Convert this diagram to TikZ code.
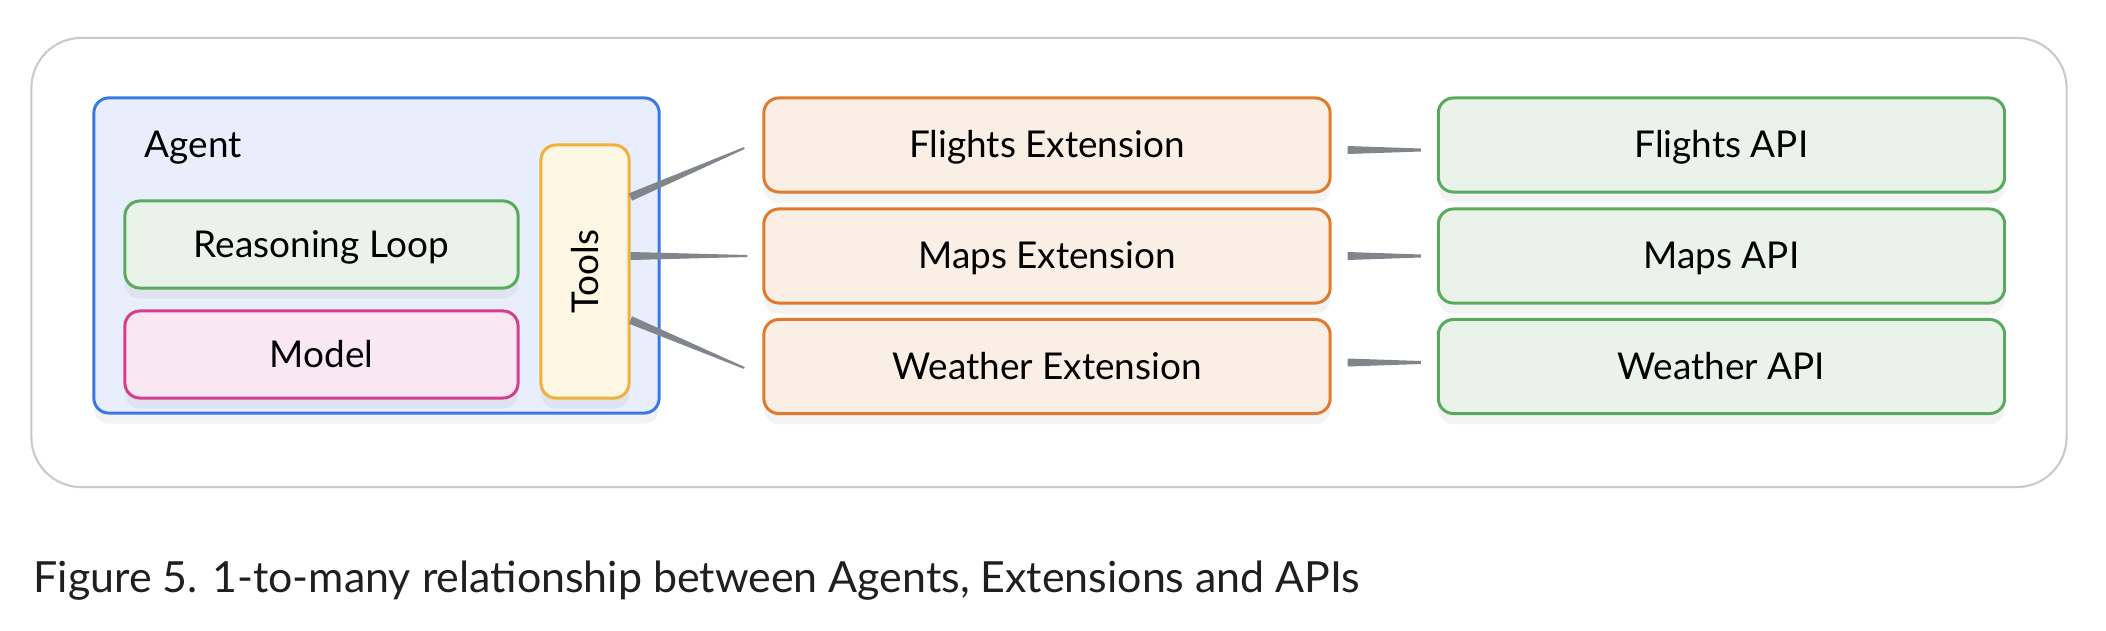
\documentclass[tikz,border=0pt]{standalone}
\usepackage{fontspec}
\setmainfont{Lato}
\usepackage{graphicx}
\usepackage{xcolor}
\definecolor{frameline}{HTML}{C8CACC}
\definecolor{agentline}{HTML}{3B78E7}
\definecolor{agentfill}{HTML}{E8EEFB}
\definecolor{loopline}{HTML}{5AAA5E}
\definecolor{loopfill}{HTML}{E9F3EA}
\definecolor{modelline}{HTML}{D63D8E}
\definecolor{modelfill}{HTML}{F9E7F1}
\definecolor{toolline}{HTML}{F0B03A}
\definecolor{toolfill}{HTML}{FDF6E3}
\definecolor{extline}{HTML}{E07A2E}
\definecolor{extfill}{HTML}{FAEFE4}
\definecolor{wiregray}{HTML}{80868B}
\definecolor{inkblack}{HTML}{1F1F1F}
\usepackage{tikz}
\usetikzlibrary{shadows,calc}

% tapered connector: from, to, half width at start, half width at end
\newcommand{\taperwire}[4]{%
  \fill[wiregray] ($(#1)!#3!90:(#2)$) -- ($(#2)!#4!-90:(#1)$) -- ($(#2)!#4!90:(#1)$) -- ($(#1)!#3!-90:(#2)$) -- cycle;}

\begin{document}
\begin{tikzpicture}[x=0.01cm,y=-0.01cm,
    box/.style={draw,line width=0.85pt,rounded corners=0.15cm,align=center,
      font=\fontsize{10.5pt}{12pt}\selectfont,text=black,
      drop shadow={opacity=0.09,shadow xshift=0pt,shadow yshift=-3pt}},
    lblbox/.style={box,text height=1.45ex,text depth=0pt},
    wide/.style={lblbox,minimum width=5.66cm,minimum height=0.94cm},
    extbox/.style={wide,draw=extline,fill=extfill},
    apibox/.style={wide,draw=loopline,fill=loopfill}]
  \useasboundingbox (0,0) rectangle (2106,630);
  \fill[white] (0,0) rectangle (2106,630);

  \node[draw=frameline,line width=0.6pt,rounded corners=0.5cm,
    minimum width=20.34cm,minimum height=4.49cm] (frame) at (1049,262.5) {};

  \node[box,draw=agentline,fill=agentfill,minimum width=5.65cm,minimum height=3.15cm] (agent) at (376.5,255.5) {};
  \node[anchor=west,inner sep=0pt,font=\fontsize{10.5pt}{12pt}\selectfont] (agentlbl) at (144,148) {Agent};
  \node[lblbox,draw=loopline,fill=loopfill,minimum width=3.93cm,minimum height=0.87cm] (loop) at (321.5,244.5) {Reasoning Loop};
  \node[lblbox,draw=modelline,fill=modelfill,minimum width=3.93cm,minimum height=0.87cm] (model) at (321.5,354.5) {Model};
  \node[box,draw=toolline,fill=toolfill,minimum width=0.88cm,minimum height=2.53cm] (tools) at (585,271.5) {\rotatebox{90}{Tools}};

  \node[extbox] (flightsext) at (1047,145) {Flights Extension};
  \node[extbox] (mapsext) at (1047,256) {Maps Extension};
  \node[extbox] (weatherext) at (1047,366.5) {Weather Extension};

  \node[apibox] (flightsapi) at (1721.5,145) {Flights API};
  \node[apibox] (mapsapi) at (1721.5,256) {Maps API};
  \node[apibox] (weatherapi) at (1721.5,366.5) {Weather API};

  \taperwire{$(tools.east)+(0,-74.5)$}{$(flightsext.west)+(-18,3)$}{0.04cm}{0.01cm}
  \taperwire{$(tools.east)+(0,-15.5)$}{$(mapsext.west)+(-15,0)$}{0.04cm}{0.01cm}
  \taperwire{$(tools.east)+(0,48.5)$}{$(weatherext.west)+(-18,1.5)$}{0.04cm}{0.01cm}

  \taperwire{$(flightsext.east)+(16,5)$}{$(flightsapi.west)+(-16,5)$}{0.04cm}{0.015cm}
  \taperwire{$(mapsext.east)+(16,0)$}{$(mapsapi.west)+(-16,0)$}{0.04cm}{0.015cm}
  \taperwire{$(weatherext.east)+(16,-4)$}{$(weatherapi.west)+(-16,-4)$}{0.04cm}{0.015cm}

  \node[anchor=base west,inner sep=0pt,text=inkblack,font=\fontsize{12.2pt}{14pt}\selectfont] (caption) at (33,592)
    {Figure 5. 1-to-many relationship between Agents, Extensions and APIs};
\end{tikzpicture}
\end{document}
